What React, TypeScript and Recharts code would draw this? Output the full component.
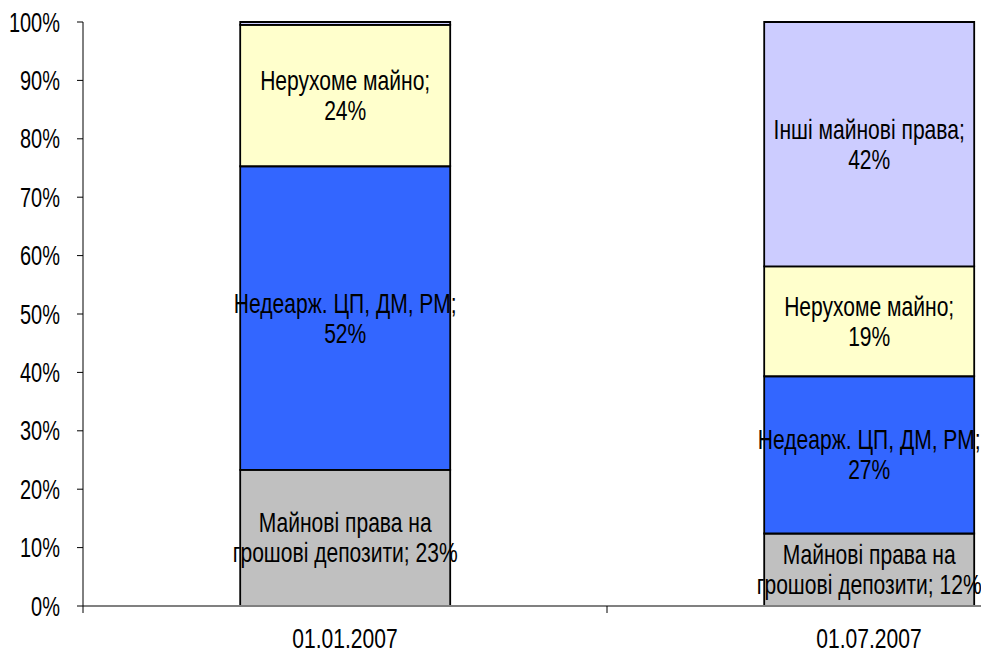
import React from "react";
import { BarChart, Bar, XAxis, YAxis, LabelList } from "recharts";

// dates on the category axis
const dates = ["01.01.2007", "01.07.2007"];

// series (percent of total), bottom to top
const deposits = [23.3, 12.4];
const securities = [52.0, 26.9];
const realty = [24.2, 18.8];
const otherRights = [0.5, 41.8];

const seriesNames = ["Майнові права на грошові депозити", "Недеарж. ЦП, ДМ, РМ", "Нерухоме майно", "Інші майнові права"];
// how each label is wrapped: first line, and prefix for the second line (percent follows)
const labelHead = ["Майнові права на", "Недеарж. ЦП, ДМ, РМ;", "Нерухоме майно;", "Інші майнові права;"];
const labelTail = ["грошові депозити; ", "", "", ""];
const yTicks = [0, 0.1, 0.2, 0.3, 0.4, 0.5, 0.6, 0.7, 0.8, 0.9, 1];

const data = dates.map((d, i) => ({
  date: d,
  deposits: deposits[i],
  securities: securities[i],
  realty: realty[i],
  otherRights: otherRights[i],
}));

const FONT = "'Liberation Sans', Arial, sans-serif";
const SQUEEZE = 0.78;

const YTick = ({ x, y, payload }: any) => (
  <text
    transform={`translate(${x},${y}) scale(0.74,1)`}
    textAnchor="end"
    dominantBaseline="central"
    fontSize={27}
    fontFamily={FONT}
    fill="#000"
  >
    {Math.round(payload.value * 100)}%
  </text>
);

const XTick = ({ x, y, payload }: any) => {
  const off = payload.offset ?? 0;
  return (
    <g>
      <line x1={x - off} x2={x - off} y1={y} y2={y + 7} stroke="#000" strokeWidth={1} />
      <text
        transform={`translate(${x},${y + 33}) scale(${SQUEEZE},1)`}
        textAnchor="middle"
        dominantBaseline="central"
        fontSize={27}
        fontFamily={FONT}
        fill="#000"
      >
        {payload.value}
      </text>
    </g>
  );
};

const makeLabel = (si: number) => (props: any) => {
  const { x, y, width, height, value, index } = props;
  if (!value || value < 2) return null;
  const cx = x + width / 2;
  const cy = y + height / 2;
  const pct = `${Math.round(value)}%`;
  return (
    <g key={`lbl-${si}-${index}`} fontSize={27} fontFamily={FONT} fill="#000">
      <text transform={`translate(${cx},${cy - 15}) scale(${SQUEEZE},1)`} textAnchor="middle" dominantBaseline="central">
        {labelHead[si]}
      </text>
      <text transform={`translate(${cx},${cy + 15}) scale(${SQUEEZE},1)`} textAnchor="middle" dominantBaseline="central">
        {labelTail[si] + pct}
      </text>
    </g>
  );
};

const keys = ["deposits", "securities", "realty", "otherRights"];
const fills = ["#C0C0C0", "#3366FF", "#FFFFCC", "#CCCCFF"];

export default function App() {
  return (
    <div style={{ position: "fixed", left: 0, top: 0, width: 981, height: 653, overflow: "hidden", background: "#fff" }}>
      <BarChart
        width={1140}
        height={653}
        data={data}
        stackOffset="expand"
        barCategoryGap="30%"
        margin={{ top: 22, right: 9, bottom: 0, left: 0 }}
      >
        <XAxis
          dataKey="date"
          height={47}
          tickSize={0}
          tickMargin={0}
          axisLine={{ stroke: "#808080", strokeWidth: 2 }}
          tickLine={false}
          tick={<XTick />}
          interval={0}
        />
        <YAxis
          width={83}
          domain={[0, 1]}
          ticks={yTicks}
          tickSize={6}
          tickMargin={17}
          axisLine={{ stroke: "#000" }}
          tickLine={{ stroke: "#000" }}
          tick={<YTick />}
        />
        {keys.map((k, si) => (
          <Bar
            key={k}
            dataKey={k}
            name={seriesNames[si]}
            stackId="a"
            fill={fills[si]}
            stroke="#000"
            strokeWidth={1.8}
            isAnimationActive={false}
          >
            <LabelList dataKey={k} content={makeLabel(si)} />
          </Bar>
        ))}
      </BarChart>
    </div>
  );
}
